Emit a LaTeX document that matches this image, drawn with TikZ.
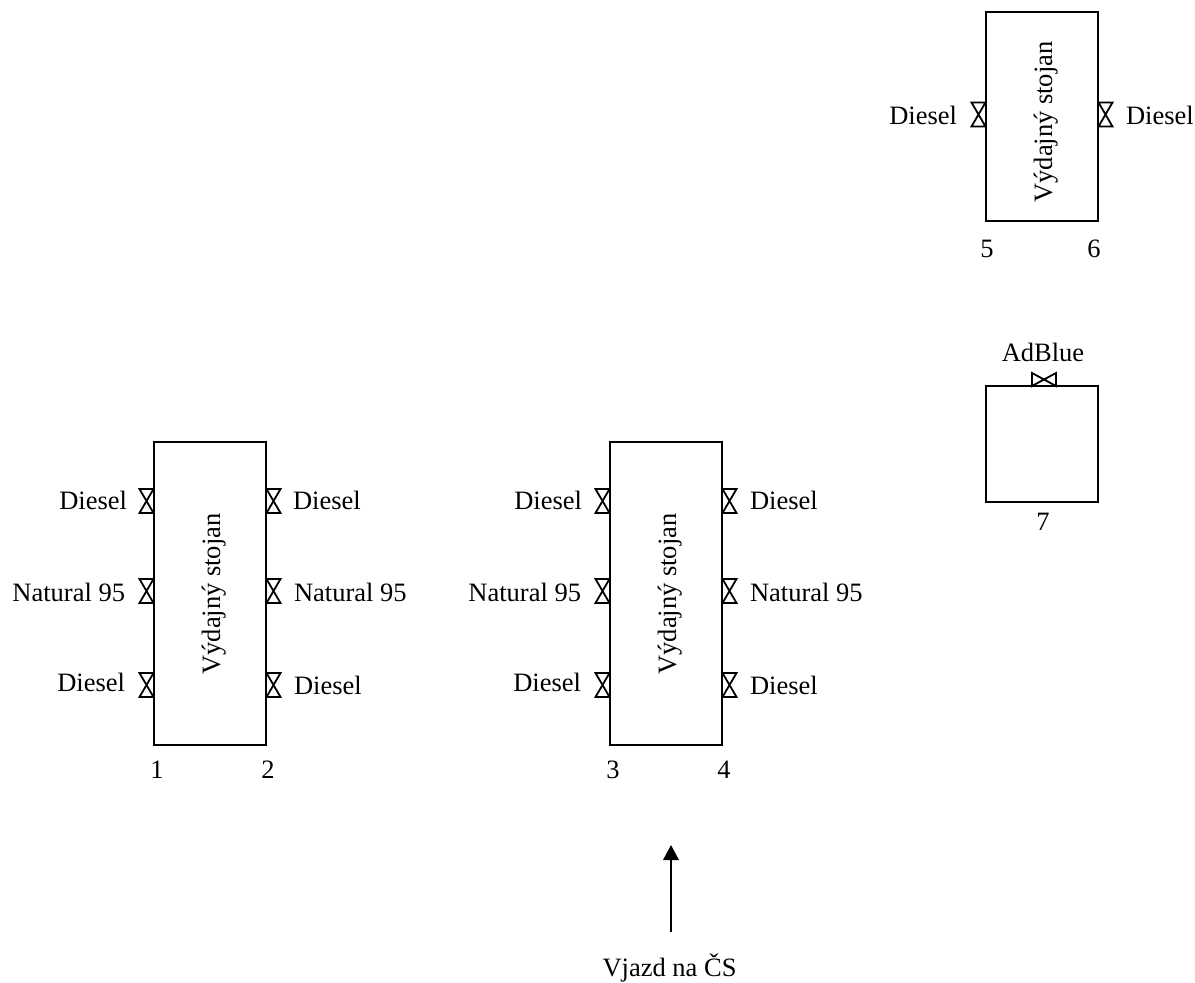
\documentclass[tikz,border=0pt]{standalone}
\usepackage{fontspec}
\setmainfont{Liberation Serif}
\usetikzlibrary{arrows.meta}
\tikzset{
  x=1pt,y=-1pt,
  box/.style={draw=black,line width=1.8pt,fill=white,inner sep=0pt,outer sep=0pt,minimum width=112pt},
  lab/.style={inner sep=0pt,outer sep=0pt,font=\fontsize{26.5pt}{30pt}\selectfont,text=black},
  valveline/.style={draw=black,line width=1.8pt,line join=miter},
  entry/.style={line width=1.8pt,-{Triangle[width=15.5pt,length=15pt]}},
  valveV/.pic={\draw[valveline] (-7,-12) -- (7,-12) -- (-7,12) -- (7,12) -- cycle;},
  valveH/.pic={\draw[valveline] (-12,-6.5) -- (-12,6.5) -- (12,-6.5) -- (12,6.5) -- cycle;}
}
\begin{document}
\begin{tikzpicture}
\useasboundingbox (0,0) rectangle (1195,983);
% boxes
\node[box,minimum height=303pt] (s1) at (210,593.5) {};
\node[box,minimum height=303pt] (s2) at (666,593.5) {};
\node[box,minimum height=209pt] (s3) at (1042,116.5) {};
\node[box,minimum height=116pt] (s4) at (1042,444) {};
% stand titles
\node[lab,rotate=90,anchor=base] (t1) at (220,594) {Výdajný stojan};
\node[lab,rotate=90,anchor=base] (t2) at (676,594) {Výdajný stojan};
\node[lab,rotate=90,anchor=base] (t3) at (1052,122) {Výdajný stojan};
% valves
\foreach \x in {146.5,273.5,602.5,729.5}
  \foreach \y in {501,591,685}
    \pic at (\x,\y) {valveV};
\pic at (978.5,114.5) {valveV};
\pic at (1105.5,114.5) {valveV};
\pic at (1044,379.5) {valveH};
% labels, stand 1-2
\node[lab,anchor=base east] (a1) at (127,509) {Diesel};
\node[lab,anchor=base east] (a2) at (125,601) {Natural 95};
\node[lab,anchor=base east] (a3) at (125,691) {Diesel};
\node[lab,anchor=base west] (a4) at (293,509) {Diesel};
\node[lab,anchor=base west] (a5) at (294,601) {Natural 95};
\node[lab,anchor=base west] (a6) at (294,694) {Diesel};
\node[lab,anchor=base] (n1) at (157,778) {1};
\node[lab,anchor=base] (n2) at (268,778) {2};
% labels, stand 3-4
\node[lab,anchor=base east] (b1) at (582,509) {Diesel};
\node[lab,anchor=base east] (b2) at (581,601) {Natural 95};
\node[lab,anchor=base east] (b3) at (581,691) {Diesel};
\node[lab,anchor=base west] (b4) at (750,509) {Diesel};
\node[lab,anchor=base west] (b5) at (750,601) {Natural 95};
\node[lab,anchor=base west] (b6) at (750,694) {Diesel};
\node[lab,anchor=base] (n3) at (613,778) {3};
\node[lab,anchor=base] (n4) at (724,778) {4};
% labels, stand 5-6
\node[lab,anchor=base east] (c1) at (957,124) {Diesel};
\node[lab,anchor=base west] (c2) at (1126,124) {Diesel};
\node[lab,anchor=base] (n5) at (987,257) {5};
\node[lab,anchor=base] (n6) at (1094,257) {6};
% AdBlue
\node[lab,anchor=base] (d1) at (1043,361) {AdBlue};
\node[lab,anchor=base] (n7) at (1043,530) {7};
% entry
\node[lab,anchor=base] (vj) at (669.5,976) {Vjazd na ČS};
\coordinate (tail) at (671,932);
\coordinate (tip) at (671,845);
\draw[entry] (tail) -- (tip);
\end{tikzpicture}
\end{document}
